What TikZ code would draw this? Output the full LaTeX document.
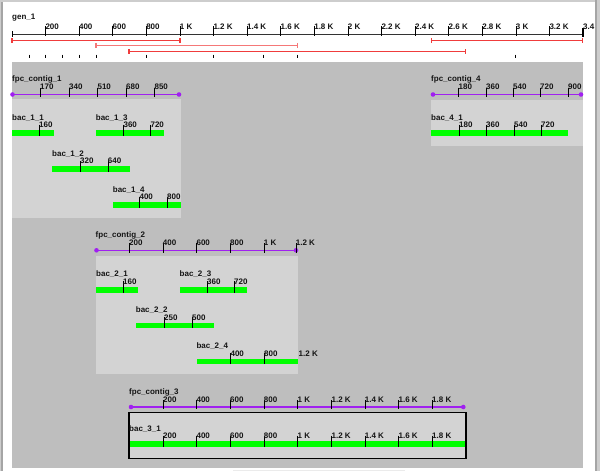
\documentclass[tikz,border=0pt]{standalone}
\usepackage{fontspec}
\setmainfont{Liberation Sans}
\definecolor{panel}{RGB}{190,190,190}
\definecolor{boxc}{RGB}{211,211,211}
\definecolor{bacg}{RGB}{0,255,0}
\definecolor{ctg}{RGB}{160,32,240}
\definecolor{redl}{RGB}{240,60,60}
\definecolor{redp}{RGB}{245,120,120}
\definecolor{txt}{RGB}{20,20,20}
\definecolor{frameA}{RGB}{205,205,205}
\definecolor{frameB}{RGB}{165,165,165}
\tikzset{
  lbl/.style={anchor=base west, inner sep=0pt, font=\bfseries\fontsize{8}{8}\selectfont, text=txt},
  tk/.style={draw=black, line width=0.9pt},
  rulerline/.style={draw=black!80, line width=0.9pt},
  ctgline/.style={draw=ctg, line width=1.6pt},
  lightbox/.style={fill=boxc},
  spanline/.style={line width=1.1pt},
}
\newcommand\ctgrow[7]{%
  \node[lbl] (#1) at (#3,#4-13) {#2};
  \draw[ctgline] (#5,#4) -- (#6,#4);
  \fill[ctg] (#5,#4) circle[radius=2.3pt] (#6,#4) circle[radius=2.3pt];
  \foreach \x/\t [count=\i] in {#7}{
    \draw[tk] (\x,#4-7) -- (\x,#4+2.3);
    \node[lbl] (#1t\i) at (\x-0.3,#4-4.7) {\t};
  }
}
\newcommand\bacrow[7]{%
  \node[lbl] (#1) at (#3,#4) {#2};
  \fill[bacg] (#5,#4+10.3) rectangle (#6,#4+16);
  \foreach \x/\t [count=\i] in {#7}{
    \draw[tk] (\x,#4+4.5) -- (\x,#4+16);
    \node[lbl] (#1t\i) at (\x-0.3,#4+7.7) {\t};
  }
}
\begin{document}
\begin{tikzpicture}[x=1pt,y=-1pt]
\useasboundingbox (0,0) rectangle (600,471);
\fill[white] (0,0) rectangle (600,471);
% window frame
\fill[frameA] (0,0) rectangle (1.4,471);
\fill[frameB] (1.4,0) rectangle (3.3,471);
\fill[frameA] (0,0) rectangle (600,1.5);
\fill[frameB] (595,0) rectangle (597,471);
\fill[frameA] (597,0) rectangle (600,471);
\fill[black!8] (233,469.5) rectangle (405,471);

% genome ruler
\node[lbl] (gen) at (12,19.5) {gen\_1};
\draw[rulerline] (12,34) -- (583.2,34);
\draw[tk] (12,31) -- (12,37);
\draw[draw=black, line width=1.5pt] (583.2,28) -- (583.2,37);
\foreach \x/\t [count=\i] in {45.6/200,79.2/400,112.8/600,146.4/800,180/1 K,213.6/1.2 K,247.2/1.4 K,280.8/1.6 K,314.4/1.8 K,348/2 K,381.6/2.2 K,415.2/2.4 K,448.8/2.6 K,482.4/2.8 K,516/3 K,549.6/3.2 K}{
  \draw[tk] (\x,26) -- (\x,36);
  \node[lbl] (gent\i) at (\x-0.3,29.3) {\t};
}
\node[lbl] (gent17) at (582.9,29.3) {3.4};

% red spans
\draw[redl, spanline] (12,38) -- (12,43) (12,40.5) -- (180,40.5) (180,38) -- (180,43);
\draw[redl, spanline] (431.7,38) -- (431.7,43) (431.7,40.5) -- (582.7,40.5) (582.7,38) -- (582.7,43);
\draw[redp, spanline] (96,43) -- (96,48) (96,45.5) -- (297.3,45.5) (297.3,43) -- (297.3,48);
\draw[redl, spanline] (129,49) -- (129,54) (129,51.5) -- (465.7,51.5) (465.7,49) -- (465.7,54);
% small marks
\foreach \x in {29,45.7,62.3,79,96,146,213.3,263.3,297.3,515}{
  \draw[draw=black, line width=0.8pt] (\x,54.6) -- (\x,58.3);
}

% panel
\fill[panel] (12,62) rectangle (583.3,468.3);

% light boxes
\fill[lightbox] (12,99) rectangle (181,218);
\fill[lightbox] (431,99.7) rectangle (583.3,146);
\fill[lightbox] (96,256) rectangle (298,374);
\fill[lightbox] (129,412.3) rectangle (466,458.3);
\draw[draw=black, line width=1.3pt] (129,412.3) rectangle (466,458.3);

% contig 1
\ctgrow{c1}{fpc\_contig\_1}{12}{94.5}{12.5}{179}{40.3/170,69.3/340,97.7/510,126.3/680,154.7/850}
\bacrow{b11}{bac\_1\_1}{12}{120}{12}{54}{39.3/160}
\bacrow{b13}{bac\_1\_3}{95.7}{120}{95.7}{163.7}{123.7/360,150.7/720}
\bacrow{b12}{bac\_1\_2}{52}{156}{52.3}{129.7}{80.3/320,108/640}
\bacrow{b14}{bac\_1\_4}{112.7}{192}{112.7}{181}{139.7/400,167.3/800}

% contig 4
\ctgrow{c4}{fpc\_contig\_4}{431}{94.5}{433}{581}{458.7/180,486.3/360,513.3/540,540.3/720,568.3/900}
\bacrow{b41}{bac\_4\_1}{431}{120}{431}{568}{459.3/180,486.3/360,514.3/540,541.3/720}

% contig 2
\ctgrow{c2}{fpc\_contig\_2}{95.5}{250.3}{96.5}{296}{129.3/200,163/400,196.7/600,230.3/800,264/1 K,296/1.2 K}
\bacrow{b21}{bac\_2\_1}{96}{276.7}{96}{137.7}{123.3/160}
\bacrow{b23}{bac\_2\_3}{179.5}{276.7}{180}{247.3}{207.3/360,234.3/720}
\bacrow{b22}{bac\_2\_2}{135.7}{312.3}{135.7}{214}{164.3/250,192.3/500}
\bacrow{b24}{bac\_2\_4}{196.3}{348.3}{196.7}{298.3}{230.7/400,264.3/800}
\node[lbl] (b24t3) at (298.5,356) {1.2 K};

% contig 3
\ctgrow{c3}{fpc\_contig\_3}{129}{407}{131}{463.3}{163.3/200,196.7/400,230.3/600,264/800,297.7/1 K,331.7/1.2 K,365/1.4 K,398.7/1.6 K,432.3/1.8 K}
\bacrow{b31}{bac\_3\_1}{129}{431}{129.6}{465.4}{163.3/200,196.7/400,230.3/600,264/800,297.7/1 K,331.7/1.2 K,365/1.4 K,398.7/1.6 K,432.3/1.8 K}
\end{tikzpicture}
\end{document}
